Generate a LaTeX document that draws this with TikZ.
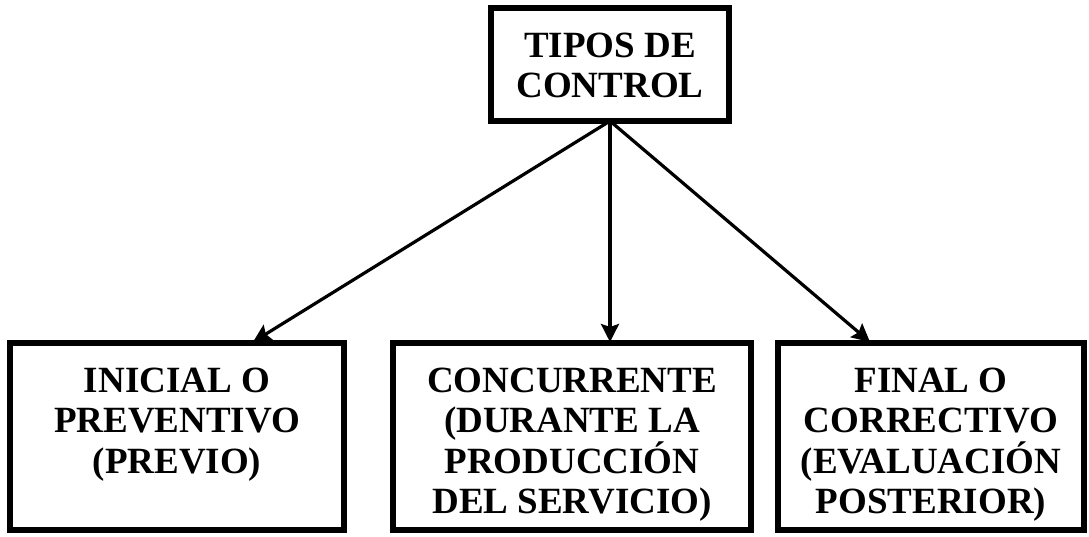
\documentclass[tikz,border=0pt]{standalone}
\usepackage{fontspec}
\setmainfont{Liberation Serif}
\usetikzlibrary{arrows.meta}
\begin{document}
\begin{tikzpicture}[x=1pt,y=-1pt,
  box/.style={draw=black, line width=6.5pt, fill=white, inner sep=0pt, outer sep=0pt},
  lbl/.style={anchor=north, inner sep=0pt, align=center, font=\fontsize{37}{40.5}\selectfont\bfseries},
  conn/.style={line width=3.2pt, -{Stealth[length=18pt,width=18pt,inset=3pt]}}]
\useasboundingbox (0,0) rectangle (1089,537);
\node[box, minimum width=238pt, minimum height=113pt] (top) at (610,64.5) {};
\node[box, minimum width=334pt, minimum height=187pt] (ini) at (177,436.5) {};
\node[box, minimum width=358pt, minimum height=187pt] (con) at (572,436.5) {};
\node[box, minimum width=306pt, minimum height=187pt] (fin) at (931,436.5) {};
\node[lbl] (ttop) at ([yshift=-21pt]top.north) {\rule{0pt}{28pt}TIPOS DE\\CONTROL};
\node[lbl] (tini) at ([yshift=-21pt]ini.north) {\rule{0pt}{28pt}INICIAL O\\PREVENTIVO\\(PREVIO)};
\node[lbl] (tcon) at ([yshift=-21pt]con.north) {\rule{0pt}{28pt}CONCURRENTE\\(DURANTE LA\\PRODUCCIÓN\\DEL SERVICIO)};
\node[lbl] (tfin) at ([yshift=-21pt]fin.north) {\rule{0pt}{28pt}FINAL O\\CORRECTIVO\\(EVALUACIÓN\\POSTERIOR)};
\coordinate (src) at (top.south);
\coordinate (e1) at (253,342);
\coordinate (e2) at (610,342);
\coordinate (e3) at (870,342);
\draw[conn] (src) -- (e1);
\draw[conn] (src) -- (e2);
\draw[conn] (src) -- (e3);
\end{tikzpicture}
\end{document}
